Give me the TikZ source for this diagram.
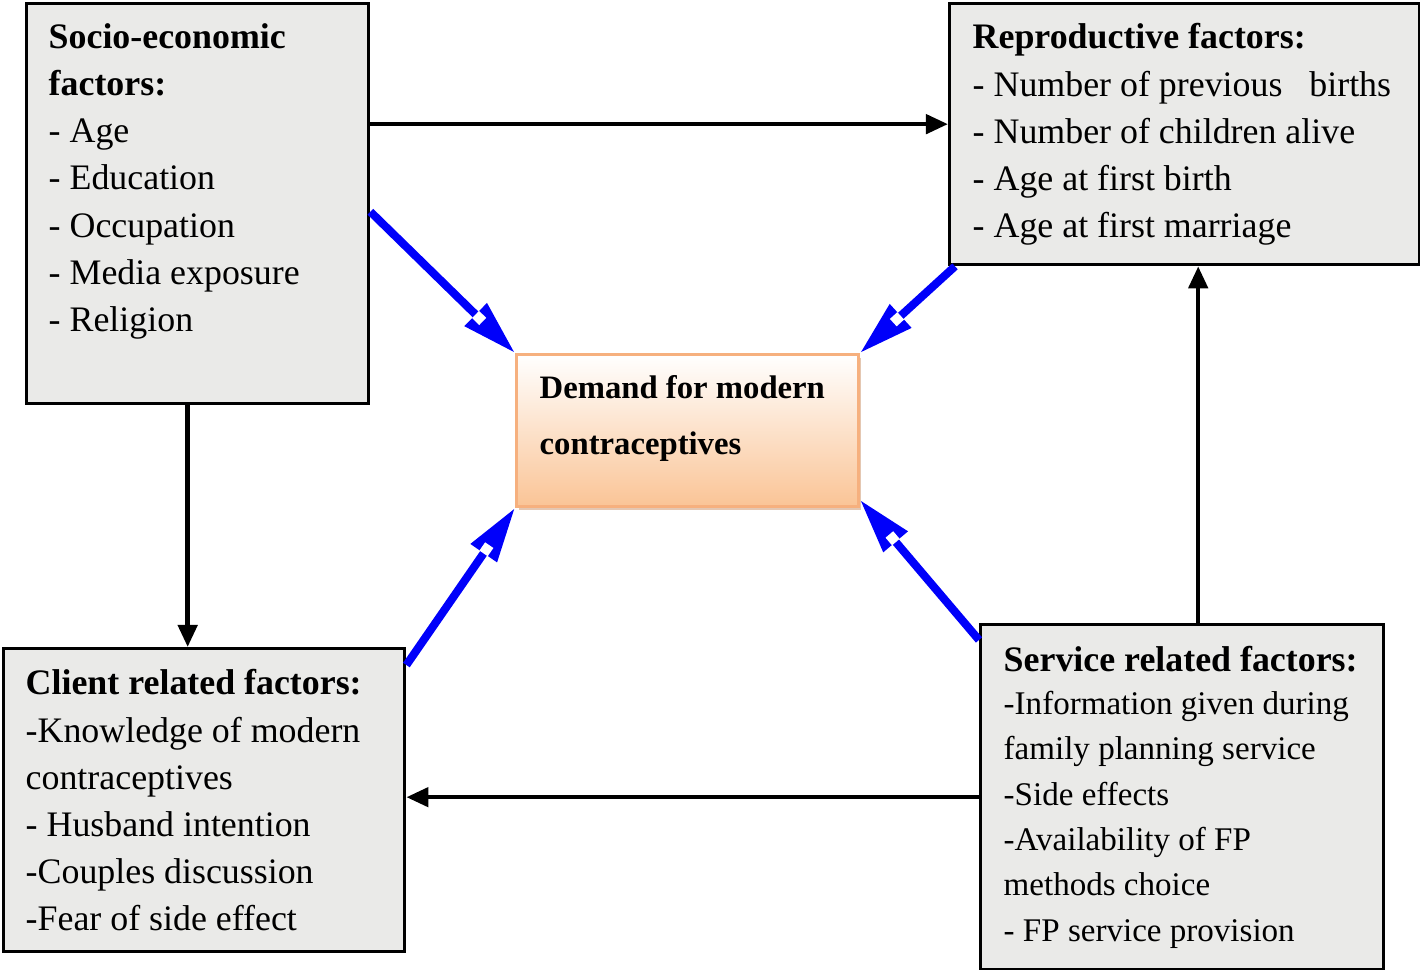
\documentclass[tikz,border=0pt]{standalone}
\usepackage{fontspec}
\setmainfont{Liberation Serif}
\usepackage{tikz}
\usetikzlibrary{arrows.meta,calc,decorations.markings,shadows}

\definecolor{boxgray}{RGB}{234,234,232}
\definecolor{peach}{RGB}{250,196,150}
\definecolor{peachline}{RGB}{246,176,126}
\definecolor{arrblue}{RGB}{0,0,250}

\begin{document}
\begin{tikzpicture}[x=0.01cm,y=-0.01cm,
		factor/.style={draw,line width=0.9pt,fill=boxgray,anchor=north west,inner sep=0pt},
		txt/.style={anchor=north west,inner sep=0pt,align=left,font=\fontsize{10.2}{13.4}\selectfont},
		blk/.style={line width=1.3pt,-{Triangle[length=0.22cm,width=0.19cm]}},
		blu/.style={draw=arrblue,line width=2.3pt,-{Triangle[length=0.55cm,width=0.3cm]},
			postaction={decorate,decoration={markings,
				mark=at position -0.5cm with {\fill[white] (-0.05cm,-0.05cm) rectangle (0.05cm,0.05cm);}}}}]
		\useasboundingbox (0,0) rectangle (1420,970);
		% boxes
		\node[factor,minimum width=3.42cm,minimum height=4.0cm] (socio) at (25,2) {};
		\node[factor,minimum width=4.7cm,minimum height=2.61cm] (repro) at (948,2) {};
		\node[factor,minimum width=4.01cm,minimum height=3.03cm] (client) at (2,647) {};
		\node[factor,minimum width=4.03cm,minimum height=3.45cm] (service) at (979,623) {};
		\node[draw=peachline,line width=0.8pt,top color=white,bottom color=peach,anchor=north west,
			minimum width=3.42cm,minimum height=1.52cm,inner sep=0pt,
			drop shadow={shadow xshift=0.6pt,shadow yshift=-0.9pt,fill=peachline!70!gray,opacity=0.6}] (demand) at (515,353) {};
		% texts
		\node[txt] (sociotxt) at (48,23) {\textbf{Socio-economic}\\\textbf{factors:}\\- Age\\- Education\\- Occupation\\- Media exposure\\- Religion};
		\node[txt] (reprotxt) at (972,23) {\textbf{Reproductive factors:}\\- Number of previous\ \ \ births\\- Number of children alive\\- Age at first birth\\- Age at first marriage};
		\node[txt] (clienttxt) at (25,669) {\textbf{Client related factors:}\\-Knowledge of modern\\contraceptives\\- Husband intention\\-Couples discussion\\-Fear of side effect};
		\node[txt,font=\fontsize{9.4}{12.9}\selectfont] (servicetxt) at (1003,646) {\fontsize{10.2}{13.4}\selectfont\textbf{Service related factors:}\\[-0.8pt]-Information given during\\family planning service\\-Side effects\\-Availability of FP\\methods choice\\- FP service provision};
		\node[txt,font=\fontsize{9.3}{15.9}\selectfont\bfseries] (demandtxt) at (539,375) {Demand for modern\\contraceptives};
		% black arrows
		\draw[blk] ([yshift=0.1cm]socio.east |- repro.west) -- ([yshift=0.1cm]repro.west);
		\draw[blk] ([xshift=-0.1cm]socio.south) -- ([xshift=-0.1cm]socio.south |- client.north);
		\draw[blk] (service.west) -- (service.west -| client.east);
		\draw[blk] ([xshift=0.16cm]service.north) -- ([xshift=0.16cm]service.north |- repro.south);
		% blue arrows
		\draw[blu] ([yshift=-0.08cm]socio.east) -- (demand.north west);
		\draw[blu] ([xshift=0.07cm]repro.south west) -- (demand.north east);
		\draw[blu] ([yshift=-0.18cm]client.north east) -- (demand.south west);
		\draw[blu] ([yshift=-0.17cm]service.north west) -- ([yshift=0.08cm]demand.south east);
	\end{tikzpicture}
\end{document}
